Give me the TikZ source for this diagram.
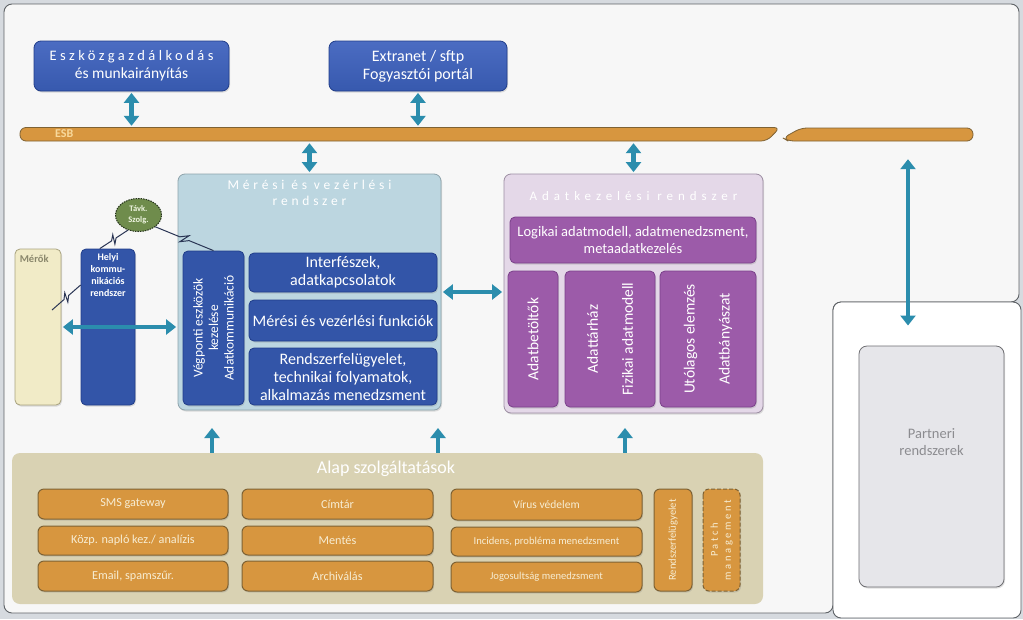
\documentclass[tikz,border=0pt]{standalone}
\usepackage{fontspec}
\setmainfont{Carlito}
\usetikzlibrary{arrows.meta,calc,shapes.geometric,shadows}
\definecolor{pagebg}{HTML}{D6DADF}
\definecolor{frameC}{HTML}{5E6266}
\definecolor{frameF}{HTML}{F7F7F7}
\definecolor{blueA}{HTML}{3759AE}
\definecolor{blueTop}{HTML}{4B6CC2}
\definecolor{blueB}{HTML}{3355A8}
\definecolor{blueD}{HTML}{213E8A}
\definecolor{meresF}{HTML}{BCD6E0}
\definecolor{meresD}{HTML}{8EA3AB}
\definecolor{adatF}{HTML}{E4D8E8}
\definecolor{adatD}{HTML}{9C8EA2}
\definecolor{purpA}{HTML}{9C5BA9}
\definecolor{purpD}{HTML}{7A418A}
\definecolor{alapF}{HTML}{D9D2B3}
\definecolor{orA}{HTML}{D7963F}
\definecolor{orD}{HTML}{7E6234}
\definecolor{orT}{HTML}{F7EDD3}
\definecolor{esbT}{HTML}{F8D99C}
\definecolor{arrC}{HTML}{2B8DAD}
\definecolor{merokF}{HTML}{F1EBC7}
\definecolor{merokD}{HTML}{A8A27E}
\definecolor{merokT}{HTML}{8A876C}
\definecolor{cloudF}{HTML}{6F8C4C}
\definecolor{cloudD}{HTML}{26341C}
\definecolor{cloudT}{HTML}{EEF4E0}
\definecolor{partF}{HTML}{E6E6EA}
\definecolor{partD}{HTML}{6E6E72}
\definecolor{partT}{HTML}{8C8C90}
\definecolor{zapC}{HTML}{2A3554}
\tikzset{
  softshadow/.style={drop shadow={shadow xshift=1pt, shadow yshift=-1.5pt, opacity=0.25}},
  box/.style={rounded corners=5pt, inner sep=1pt, align=center, text=white, line width=0.8pt, softshadow},
  bluebig/.style={box, top color=blueTop, bottom color=blueA, draw=blueD, rounded corners=7pt, font=\fontsize{15.5}{18}\selectfont},
  bluebox/.style={box, fill=blueB, draw=blueD, font=\fontsize{16}{18}\selectfont},
  purpbox/.style={box, fill=purpA, draw=purpD, font=\fontsize{15.5}{17}\selectfont},
  orbox/.style={box, fill=orA, draw=orD, line width=1pt, text=orT, rounded corners=6pt, font=\fontsize{12.2}{14}\selectfont},
  esbshape/.style={fill=orA, draw=orD, line width=0.8pt, rounded corners=6pt},
  container/.style={rounded corners=7pt, line width=0.8pt},
  dblarrow/.style={line width=4.5pt, draw=arrC, {Triangle[width=15pt,length=10pt]}-{Triangle[width=15pt,length=10pt]}, shorten <=1.5pt, shorten >=1.5pt},
  uparrow/.style={line width=4.5pt, draw=arrC, -{Triangle[width=15pt,length=10pt]}},
  zapline/.style={draw=zapC, line width=1pt, line join=miter},
}
\newcommand\zapto[2]{\draw[zapline] (#1) -- ($(#1)!0.42!(#2)$) -- ($(#1)!0.55!(#2)!4.5pt!90:(#2)$) -- ($(#1)!0.45!(#2)!4.5pt!-90:(#2)$) -- ($(#1)!0.58!(#2)$) -- (#2);}
\begin{document}
\begin{tikzpicture}[x=1pt,y=-1pt]
\useasboundingbox (0,0) rectangle (1023,619);
\fill[pagebg] (0,0) rectangle (1023,619);
\draw[frameC, fill=frameF, rounded corners=8pt, line width=0.9pt] (4,4) -- (1019,4) -- (1019,302) -- (833,302) -- (833,613) -- (4,613) -- cycle;
\draw[frameC, fill=white, rounded corners=8pt, line width=0.9pt] (833,302) rectangle (1021,618);

% top boxes
\node[bluebig, minimum width=195pt, minimum height=50pt] (eszk) at (131.5,66) {{\addfontfeature{LetterSpace=24}\fontsize{14.5}{18}\selectfont Eszközgazdálkodás}\\és munkairányítás};
\node[bluebig, minimum width=178pt, minimum height=50pt, font=\fontsize{16}{18}\selectfont] (extr) at (418,66) {Extranet / sftp\\Fogyasztói portál};

% ESB
\path[esbshape] (20,127.5) -- (780,127.5) -- (767,141) -- (20,141) -- cycle;
\path[esbshape] (783,138) -- (801,128) -- (973,128) -- (973,141) -- (788,141) -- cycle;
\node[inner sep=0, minimum width=760pt, minimum height=14pt] (esb) at (400,134.5) {};
\node[inner sep=0, minimum width=190pt, minimum height=14pt] (esbb) at (878,134.5) {};
\node[anchor=west, text=esbT, inner sep=0, font=\bfseries\fontsize{12}{12}\selectfont] (esbl) at (55,134) {ESB};

% Meresi es vezerlesi rendszer
\node[container, draw=meresD, fill=meresF, minimum width=263pt, minimum height=236pt, softshadow] (meres) at (309.5,292) {};
\node[anchor=north, text=white, align=center, font=\fontsize{13.5}{16}\selectfont\addfontfeature{LetterSpace=28}] (meresT) at ([yshift=-3pt]meres.north) {Mérési és vezérlési\\rendszer};
\node[bluebox, rotate=90, minimum width=154pt, minimum height=61pt, font=\fontsize{13.5}{15.5}\selectfont] (vegp) at (213.5,328) {Végponti eszközök\\kezelése\\Adatkommunikáció};
\node[bluebox, minimum width=188pt, minimum height=39pt] (intf) at (343,272.5) {Interfészek,\\adatkapcsolatok};
\node[bluebox, minimum width=188pt, minimum height=41pt] (mvf) at (343,320.5) {Mérési és vezérlési funkciók};
\node[bluebox, minimum width=188pt, minimum height=57pt] (rfel) at (343,376.5) {Rendszerfelügyelet,\\technikai folyamatok,\\alkalmazás menedzsment};

% Merok, helyi
\node[container, rounded corners=5pt, draw=merokD, fill=merokF, minimum width=46pt, minimum height=156pt, softshadow] (merok) at (38,327) {};
\node[anchor=north west, text=merokT, inner sep=1pt, font=\bfseries\fontsize{10.5}{12}\selectfont] (merokT) at ([xshift=4pt,yshift=-5pt]merok.north west) {Mérők};
\node[bluebox, minimum width=54pt, minimum height=156pt] (helyi) at (108,327) {};
\node[anchor=north, text=white, align=center, inner sep=1pt, font=\bfseries\fontsize{10}{12}\selectfont] (helyiT) at ([yshift=-4pt]helyi.north) {Helyi\\kommu-\\nikációs\\rendszer};
\node[ellipse, fill=cloudF, draw=cloudD, line width=1pt, dash pattern=on 1.5pt off 1pt, minimum width=46pt, minimum height=33pt, inner sep=0, align=center, text=cloudT, font=\bfseries\fontsize{8.5}{11}\selectfont] (tavk) at (138.5,215) {Távk.\\Szolg.};

% Adatkezelesi rendszer
\node[container, draw=adatD, fill=adatF, minimum width=259pt, minimum height=239pt, softshadow] (adat) at (633.5,293.5) {};
\node[anchor=north, text=white, font=\fontsize{13}{16}\selectfont\addfontfeature{LetterSpace=38}] (adatT) at ([yshift=-14pt]adat.north) {Adatkezelési rendszer};
\node[purpbox, minimum width=246pt, minimum height=46pt, font=\fontsize{14.5}{17}\selectfont] (logi) at (633,240) {Logikai adatmodell, adatmenedzsment,\\metaadatkezelés};
\node[purpbox, rotate=90, minimum width=136pt, minimum height=50pt] (abet) at (533,339) {Adatbetöltők};
\node[purpbox, rotate=90, minimum width=136pt, minimum height=90pt] (atar) at (610,339) {Adattárház\\[18pt]Fizikai adatmodell};
\node[purpbox, rotate=90, minimum width=136pt, minimum height=96pt] (utol) at (708,339) {Utólagos elemzés\\[18pt]Adatbányászat};

% Alap szolgaltatasok
\node[fill=alapF, rounded corners=8pt, minimum width=751pt, minimum height=151pt] (alap) at (387.5,528.5) {};
\node[text=white, inner sep=0, font=\fontsize{18}{20}\selectfont] (alapT) at (386,469) {Alap szolgáltatások};
\node[orbox, minimum width=190pt, minimum height=30pt] (sms) at (133,504) {SMS gateway};
\node[orbox, minimum width=190pt, minimum height=29pt] (kozp) at (133,540.5) {Közp. napló kez./ analízis};
\node[orbox, minimum width=190pt, minimum height=30pt] (email) at (133,576) {Email, spamszűr.};
\node[orbox, minimum width=191pt, minimum height=30pt] (cimtar) at (337.5,504) {Címtár};
\node[orbox, minimum width=191pt, minimum height=29pt] (mentes) at (337.5,540.5) {Mentés};
\node[orbox, minimum width=191pt, minimum height=30pt] (arch) at (337.5,576) {Archiválás};
\node[orbox, minimum width=191pt, minimum height=31pt, font=\fontsize{11.5}{13}\selectfont] (virus) at (546.5,504.5) {Vírus védelem};
\node[orbox, minimum width=191pt, minimum height=29pt, font=\fontsize{10.6}{12}\selectfont] (incid) at (546.5,541.5) {Incidens, probléma menedzsment};
\node[orbox, minimum width=191pt, minimum height=30pt, font=\fontsize{10.6}{12}\selectfont] (jog) at (546.5,577) {Jogosultság menedzsment};
\node[orbox, rotate=90, minimum width=102pt, minimum height=38pt, font=\fontsize{10.6}{12}\selectfont] (rsf) at (673,540) {Rendszerfelügyelet};
\node[orbox, rotate=90, dash pattern=on 4pt off 2pt, minimum width=102pt, minimum height=37pt, font=\fontsize{10.5}{13}\selectfont\addfontfeature{LetterSpace=25}] (patch) at (721.5,540) {Patch\\management};

% Partneri rendszerek
\node[container, rounded corners=8pt, draw=partD, fill=partF, minimum width=145pt, minimum height=241pt, softshadow] (partner) at (931.5,466.5) {};
\node[text=partT, align=center, font=\fontsize{14.5}{16.5}\selectfont] (partT) at (931.5,442) {Partneri\\rendszerek};

% arrows
\draw[dblarrow] (eszk.south) -- (eszk.south |- esb.north);
\draw[dblarrow] (extr.south) -- (extr.south |- esb.north);
\draw[dblarrow] (meres.north |- esb.south) -- (meres.north);
\draw[dblarrow] (adat.north |- esb.south) -- (adat.north);
\coordinate (pend) at (908,327);
\draw[dblarrow] ([yshift=-16pt]esbb.south -| pend) -- (pend);
\draw[dblarrow] (merok.east) -- (meres.west |- merok.east);
\draw[dblarrow] (meres.east) -- (adat.west |- meres.east);
\coordinate (u1) at (212,428);
\coordinate (u2) at (438,428);
\coordinate (u3) at (625,428);
\draw[uparrow] (u1 |- alap.north) -- (u1);
\draw[uparrow] (u2 |- alap.north) -- (u2);
\draw[uparrow] (u3 |- alap.north) -- (u3);

% wireless links
\coordinate (hl) at ($(helyi.north west)!0.35!(helyi.north east)$);
\coordinate (hw) at ([yshift=42pt]helyi.west);
\coordinate (mk) at (52,310);
\zapto{tavk.235}{hl}
\zapto{hw}{mk}
\zapto{tavk.-35}{vegp.east}
\end{tikzpicture}
\end{document}
